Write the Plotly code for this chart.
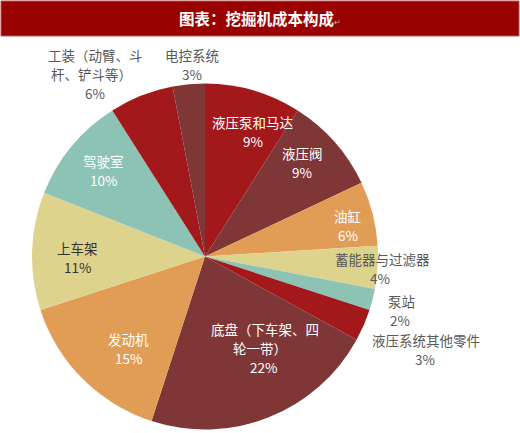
import plotly.graph_objects as go

W, H = 520, 433

categories = ["液压泵和马达", "液压阀", "油缸", "蓄能器与过滤器", "泵站", "液压系统其他零件",
              "底盘（下车架、四轮一带）", "发动机", "上车架", "驾驶室", "工装（动臂、斗杆、铲斗等）", "电控系统"]
values = [9, 9, 6, 4, 2, 3, 22, 15, 11, 10, 6, 3]
label_lines = [["液压泵和马达"], ["液压阀"], ["油缸"], ["蓄能器与过滤器"], ["泵站"], ["液压系统其他零件"],
               ["底盘（下车架、四", "轮一带）"], ["发动机"], ["上车架"], ["驾驶室"],
               ["工装（动臂、斗", "杆、铲斗等）"], ["电控系统"]]

RED = "#A3181A"
BROWN = "#7E3636"
ORANGE = "#E19C56"
KHAKI = "#DED38C"
TEAL = "#8CC3B5"
colors = [RED, BROWN, ORANGE, KHAKI, TEAL, RED, BROWN, ORANGE, KHAKI, TEAL, RED, BROWN]

# per-label: x centres of each text line (incl. percent line) and y of first line (pixels)
label_x = [[253, 253], [302, 302], [347, 348], [382, 380], [401, 400], [426, 425],
           [265, 260, 263], [128, 128], [77, 77], [103, 103], [95, 91, 95], [192, 192]]
label_y0 = [122, 153, 216, 259, 301, 339.5, 329, 339, 248, 161, 55, 55]
LINE_H = 19
label_col = ["white", "white", "white", "#595959", "#595959", "#595959",
             "white", "white", "#333333", "white", "#595959", "#595959"]

fig = go.Figure()
fig.add_trace(go.Pie(
    labels=categories, values=values, sort=False, direction="clockwise", rotation=0,
    marker=dict(colors=colors, line=dict(width=0)),
    textinfo="none", hoverinfo="label+percent", showlegend=False,
    domain=dict(x=[32 / W, 378 / W], y=[1 - 430 / H, 1 - 83 / H]),
))

annotations = []
for lines, v, xs, y0, c in zip(label_lines, values, label_x, label_y0, label_col):
    all_lines = lines + [f"{v}%"]
    for i, (t, px) in enumerate(zip(all_lines, xs)):
        py = y0 + i * LINE_H
        annotations.append(dict(
            x=px / W, y=1 - py / H, xref="paper", yref="paper", showarrow=False,
            text=t, xanchor="center", yanchor="middle",
            font=dict(family="Noto Sans CJK SC", size=13.5, color=c),
        ))
annotations.append(dict(
    x=260 / W, y=1 - 18 / H, xref="paper", yref="paper", showarrow=False,
    text="<b>图表：挖掘机成本构成</b><span style='font-size:8px;color:#bbbbbb'>↵</span>",
    xanchor="center", yanchor="middle",
    font=dict(family="Noto Sans CJK SC", size=15.5, color="white"),
))

fig.update_layout(
    width=W, height=H, margin=dict(l=0, r=0, t=0, b=0),
    paper_bgcolor="white", plot_bgcolor="white",
    annotations=annotations,
    shapes=[dict(type="rect", xref="paper", yref="paper", x0=1 / W, x1=1 - 1 / W,
                 y0=1 - 36 / H, y1=1 - 1 / H, fillcolor="#990000",
                 line=dict(color="#C05050", width=1), layer="below")],
)

fig.write_html("out.html", config={"displayModeBar": False},
               post_script="document.body.style.margin='0';")
